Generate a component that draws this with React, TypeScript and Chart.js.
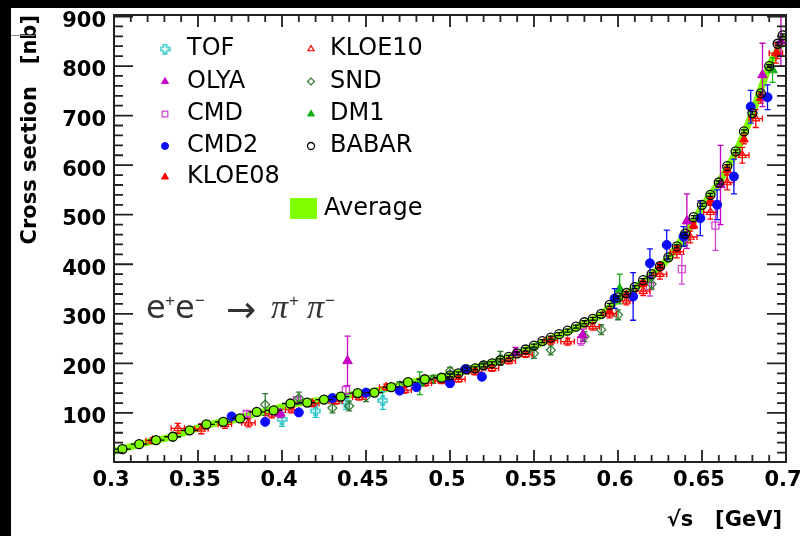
import { useEffect, useRef } from "react";
import { Chart, registerables } from "chart.js";
import { drawPoint } from "chart.js/helpers";

Chart.register(...registerables);

// ---------- axis ticks ----------
const X_TICKS = [0.3, 0.35, 0.4, 0.45, 0.5, 0.55, 0.6, 0.65, 0.7];
const X_TICK_LABELS = ["0.3", "0.35", "0.4", "0.45", "0.5", "0.55", "0.6", "0.65", "0.7"];
const Y_TICKS = [100, 200, 300, 400, 500, 600, 700, 800, 900];
const Y_TICK_LABELS = ["100", "200", "300", "400", "500", "600", "700", "800", "900"];

// ---------- data ----------
const AVG_X = [0.3, 0.31, 0.32, 0.33, 0.34, 0.35, 0.36, 0.37, 0.38, 0.39, 0.4, 0.41, 0.42, 0.43, 0.44, 0.45, 0.46, 0.47, 0.48, 0.49, 0.5, 0.51, 0.52, 0.53, 0.54, 0.55, 0.56, 0.57, 0.58, 0.59, 0.6, 0.61, 0.62, 0.63, 0.64, 0.65, 0.66, 0.67, 0.68, 0.69, 0.7];
const AVG_Y = [23, 32, 41, 48, 58, 70, 79, 85, 95, 103, 112, 120, 124, 130, 136, 141, 147, 156, 164, 170, 176, 186, 196, 206, 219, 234, 250, 264, 280, 298, 330, 352, 378, 412, 460, 515, 565, 625, 705, 800, 862];

const BABAR_LO_X = [0.305, 0.315, 0.325, 0.335, 0.345, 0.355, 0.365, 0.375, 0.385, 0.395, 0.405, 0.415, 0.425, 0.435, 0.445, 0.455, 0.465, 0.475, 0.485, 0.495];
const BABAR_LO_Y = [27, 37, 45, 52, 65, 77, 82, 89, 102, 105, 119, 121, 127, 133, 140, 141, 152, 162, 168, 171];
const BABAR_HI_X = [0.5, 0.505, 0.51, 0.515, 0.52, 0.525, 0.53, 0.535, 0.54, 0.545, 0.55, 0.555, 0.56, 0.565, 0.57, 0.575, 0.58, 0.585, 0.59, 0.595, 0.6, 0.605, 0.61, 0.615, 0.62, 0.625, 0.63, 0.635, 0.64, 0.645, 0.65, 0.655, 0.66, 0.665, 0.67, 0.675, 0.68, 0.685, 0.69, 0.695, 0.698];
const BABAR_HI_Y = [176, 180, 188, 190, 196, 200, 206, 213, 220, 228, 236, 245, 252, 259, 266, 274, 283, 290, 300, 318, 333, 342, 354, 368, 380, 396, 414, 436, 462, 495, 520, 540, 565, 598, 628, 668, 705, 745, 800, 845, 862];
const BABAR_X_ERR_LO = 0.005;
const BABAR_Y_ERR = 3;

const TOF_X = [0.4, 0.42, 0.438, 0.46];
const TOF_Y = [87, 104, 122, 125];
const TOF_ERR = [14, 13, 15, 18];

const OLYA_X = [0.399, 0.439, 0.539, 0.579, 0.641, 0.661, 0.686, 0.697];
const OLYA_Y = [99, 205, 222, 257, 487, 560, 782, 850];
const OLYA_ERR = [8, 50, 10, 12, 55, 80, 64, 50];

const CMD_X = [0.379, 0.409, 0.438, 0.578, 0.619, 0.638, 0.658];
const CMD_Y = [98, 126, 146, 247, 356, 390, 478];
const CMD_ERR = [6, 6, 8, 10, 20, 30, 50];

const CMD2_X = [0.37, 0.39, 0.41, 0.43, 0.45, 0.47, 0.48, 0.5, 0.509, 0.519, 0.598, 0.609, 0.619, 0.629, 0.639, 0.649, 0.659, 0.669, 0.679, 0.689];
const CMD2_Y = [93, 82, 101, 130, 141, 145, 152, 160, 188, 173, 331, 335, 402, 439, 456, 493, 520, 577, 718, 737];
const CMD2_ERR = [5, 5, 5, 6, 6, 6, 6, 7, 7, 7, 20, 48, 29, 30, 20, 35, 30, 35, 33, 25];

const KLOE08_X = [0.595, 0.605, 0.615, 0.625, 0.635, 0.645, 0.655, 0.665, 0.675, 0.685, 0.695];
const KLOE08_Y = [305, 338, 362, 396, 430, 478, 528, 590, 652, 735, 825];
const KLOE08_ERR = [4, 4, 5, 5, 6, 6, 7, 8, 9, 10, 10];

const KLOE10_X = [0.323, 0.338, 0.352, 0.366, 0.38, 0.394, 0.406, 0.418, 0.432, 0.446, 0.462, 0.473, 0.485, 0.495, 0.505, 0.515, 0.525, 0.535, 0.545, 0.56, 0.57, 0.585, 0.595, 0.605, 0.615, 0.625, 0.635, 0.643, 0.655, 0.665, 0.674, 0.682, 0.694];
const KLOE10_Y = [44, 69, 68, 77, 80, 98, 106, 119, 124, 132, 152, 146, 160, 165, 168, 183, 190, 205, 218, 246, 244, 274, 300, 326, 346, 380, 425, 455, 505, 565, 620, 694, 826];
const KLOE10_ERR = [6, 10, 10, 8, 8, 8, 6, 6, 6, 6, 6, 6, 6, 6, 6, 6, 6, 6, 6, 7, 7, 7, 8, 8, 9, 10, 12, 12, 14, 15, 16, 18, 20];
const KLOE10_X_ERR = 0.004;

const SND_X = [0.39, 0.41, 0.43, 0.44, 0.45, 0.47, 0.49, 0.5, 0.52, 0.53, 0.55, 0.56, 0.58, 0.59, 0.6, 0.62, 0.64];
const SND_Y = [117, 130, 110, 114, 133, 155, 168, 185, 196, 210, 220, 227, 254, 268, 298, 360, 450];
const SND_ERR = [22, 12, 10, 10, 10, 8, 8, 7, 7, 14, 10, 10, 10, 10, 10, 10, 12];

const DM1_X = [0.482, 0.601, 0.692];
const DM1_Y = [160, 350, 792];
const DM1_ERR = [23, 30, 25];

// ---------- styling ----------
const FONT = '"DejaVu Sans", "Liberation Sans", sans-serif';
const C_TOF = "#14c0c0";
const C_OLYA = "#c400c4";
const C_CMD = "#d040d0";
const C_CMD2 = "#0a0aff";
const C_RED = "#ff0000";
const C_SND = "#2f7a2f";
const C_DM1 = "#12b012";
const C_AVG = "#80ff00";
const CLEAR = "rgba(0,0,0,0)";

const pts = (xs: number[], ys: number[]) => xs.map((x, i) => ({ x, y: ys[i] }));

function makeHollowPlus(color: string) {
  const c = document.createElement("canvas");
  c.width = 11;
  c.height = 11;
  const g = c.getContext("2d")!;
  g.strokeStyle = color;
  g.lineWidth = 1.3;
  const m = 5.5, a = 1.6, e = 4.5;
  g.beginPath();
  g.moveTo(m - a, m - e); g.lineTo(m + a, m - e); g.lineTo(m + a, m - a); g.lineTo(m + e, m - a);
  g.lineTo(m + e, m + a); g.lineTo(m + a, m + a); g.lineTo(m + a, m + e); g.lineTo(m - a, m + e);
  g.lineTo(m - a, m + a); g.lineTo(m - e, m + a); g.lineTo(m - e, m - a); g.lineTo(m - a, m - a);
  g.closePath();
  g.stroke();
  return c;
}

const errorBarPlugin = {
  id: "errbars",
  beforeDatasetDraw(chart: any, args: any) {
    const ds: any = chart.data.datasets[args.index];
    if (!ds.yErr && !ds.xErr) return;
    const { ctx, chartArea } = chart;
    const xs = chart.scales.x, ys = chart.scales.y;
    ctx.save();
    ctx.beginPath();
    ctx.rect(chartArea.left, chartArea.top, chartArea.right - chartArea.left, chartArea.bottom - chartArea.top);
    ctx.clip();
    ctx.strokeStyle = ds.errColor;
    ctx.lineWidth = 1.3;
    const cap = 3;
    ds.data.forEach((p: any, i: number) => {
      const px = xs.getPixelForValue(p.x);
      const py = ys.getPixelForValue(p.y);
      const ye = Array.isArray(ds.yErr) ? ds.yErr[i] : ds.yErr;
      const xe = Array.isArray(ds.xErr) ? ds.xErr[i] : ds.xErr;
      ctx.beginPath();
      if (ye) {
        const t = ys.getPixelForValue(p.y + ye);
        const b = ys.getPixelForValue(p.y - ye);
        ctx.moveTo(px, t); ctx.lineTo(px, b);
        ctx.moveTo(px - cap, t); ctx.lineTo(px + cap, t);
        ctx.moveTo(px - cap, b); ctx.lineTo(px + cap, b);
      }
      if (xe) {
        const l = xs.getPixelForValue(p.x - xe);
        const r = xs.getPixelForValue(p.x + xe);
        ctx.moveTo(l, py); ctx.lineTo(r, py);
        if (ds.xCaps) {
          ctx.moveTo(l, py - cap); ctx.lineTo(l, py + cap);
          ctx.moveTo(r, py - cap); ctx.lineTo(r, py + cap);
        }
      }
      ctx.stroke();
    });
    ctx.restore();
  },
};

const framePlugin = {
  id: "frame",
  beforeDraw(chart: any) {
    const { ctx, width, height } = chart;
    ctx.save();
    ctx.fillStyle = "#fff";
    ctx.fillRect(0, 0, width, height);
    ctx.restore();
  },
  afterDraw(chart: any) {
    const { ctx, chartArea: ca } = chart;
    const xs = chart.scales.x, ys = chart.scales.y;
    ctx.save();
    ctx.strokeStyle = "#222";
    ctx.lineWidth = 2;
    ctx.strokeRect(ca.left, ca.top, ca.right - ca.left, ca.bottom - ca.top);
    ctx.lineWidth = 1.8;
    ctx.beginPath();
    for (let i = 30; i <= 70; i++) {
      const px = xs.getPixelForValue(i / 100);
      const len = i % 5 === 0 ? 12 : 7;
      ctx.moveTo(px, ca.bottom); ctx.lineTo(px, ca.bottom - len);
      ctx.moveTo(px, ca.top); ctx.lineTo(px, ca.top + len);
    }
    for (let i = 1; i <= 45; i++) {
      const v = i * 20;
      if (v > ys.max) break;
      const py = ys.getPixelForValue(v);
      const len = v % 100 === 0 ? 19 : 9;
      ctx.moveTo(ca.left, py); ctx.lineTo(ca.left + len, py);
      ctx.moveTo(ca.right, py); ctx.lineTo(ca.right - len, py);
    }
    ctx.stroke();

    // axis titles
    ctx.fillStyle = "#000";
    ctx.font = `bold 21px ${FONT}`;
    ctx.save();
    ctx.translate(31, 15);
    ctx.rotate(-Math.PI / 2);
    ctx.textAlign = "right";
    ctx.textBaseline = "middle";
    ctx.fillText("Cross section   [nb]", 0, 0);
    ctx.restore();
    ctx.textAlign = "right";
    ctx.textBaseline = "middle";
    ctx.fillText("\u221As   [GeV]", 782, 521);

    // legend
    const entries: any[] = chart.data.datasets.filter((d: any) => d.legendPos);
    ctx.textAlign = "left";
    ctx.textBaseline = "middle";
    ctx.font = `24px ${FONT}`;
    entries.forEach((d: any) => {
      const [mx, tx, y] = d.legendPos;
      ctx.save();
      ctx.fillStyle = d.legendFill;
      ctx.strokeStyle = d.pointBorderColor;
      ctx.lineWidth = d.pointBorderWidth;
      drawPoint(ctx, { pointStyle: d.pointStyle, radius: d.legendRadius, rotation: 0, borderWidth: d.pointBorderWidth } as any, mx, y);
      ctx.restore();
      ctx.fillStyle = "#000";
      ctx.fillText(d.label, tx, y);
    });
    ctx.fillStyle = C_AVG;
    ctx.fillRect(290, 198, 27, 21);
    ctx.fillStyle = "#000";
    ctx.fillText("Average", 324, 209);

    // process annotation
    ctx.fillStyle = "#333";
    ctx.textBaseline = "alphabetic";
    ctx.textAlign = "left";
    ctx.font = `32px ${FONT}`;
    ctx.fillText("e", 146, 318);
    ctx.fillText("e", 175, 318);
    ctx.font = `17px "Liberation Sans", sans-serif`;
    ctx.fillText("+", 165, 306);
    ctx.fillText("\u2212", 195, 306);
    ctx.fillText("+", 289, 306);
    ctx.fillText("\u2212", 325, 306);
    ctx.font = `36px ${FONT}`;
    ctx.fillText("\u2192", 226, 322);
    ctx.font = `italic 34px "Liberation Serif", serif`;
    ctx.fillText("\u03C0", 271, 318);
    ctx.fillText("\u03C0", 307, 318);

    // outer dark strips
    ctx.fillStyle = "#000";
    ctx.fillRect(0, 0, 800, 8);
    ctx.fillRect(0, 0, 11, 536);
    ctx.strokeStyle = "#888";
    ctx.lineWidth = 1;
    ctx.beginPath();
    ctx.moveTo(11, 35.5); ctx.lineTo(35, 35.5);
    ctx.stroke();
    ctx.restore();
  },
};

export default function App() {
  const ref = useRef<HTMLCanvasElement>(null);
  useEffect(() => {
    const plus = makeHollowPlus(C_TOF);
    const babarX = [...BABAR_LO_X, ...BABAR_HI_X];
    const babarY = [...BABAR_LO_Y, ...BABAR_HI_Y];
    const babarXErr = [...BABAR_LO_X.map(() => BABAR_X_ERR_LO), ...BABAR_HI_X.map(() => 0)];
    const babarFill = [...BABAR_LO_X.map(() => C_AVG), ...BABAR_HI_X.map(() => CLEAR)];

    const mk = (label: string, xs: number[], ys: number[], o: any) => ({
      label,
      data: pts(xs, ys),
      showLine: false,
      pointHoverRadius: 0,
      ...o,
    });

    const datasets: any[] = [
      mk("BABAR", babarX, babarY, {
        pointStyle: "circle", pointRadius: 4.5, legendRadius: 3.5, legendFill: CLEAR,
        pointBackgroundColor: babarFill, pointBorderColor: "#000", pointBorderWidth: 1.3,
        xErr: babarXErr, yErr: BABAR_Y_ERR, errColor: "#000", legendPos: [311, 330, 146],
      }),
      mk("CMD2", CMD2_X, CMD2_Y, {
        pointStyle: "circle", pointRadius: 4.5, legendRadius: 3.5, legendFill: C_CMD2,
        pointBackgroundColor: C_CMD2, pointBorderColor: C_CMD2, pointBorderWidth: 1,
        yErr: CMD2_ERR, errColor: C_CMD2, legendPos: [165, 187, 146],
      }),
      mk("OLYA", OLYA_X, OLYA_Y, {
        pointStyle: "triangle", pointRadius: 5.5, legendRadius: 4, legendFill: C_OLYA,
        pointBackgroundColor: C_OLYA, pointBorderColor: C_OLYA, pointBorderWidth: 1,
        yErr: OLYA_ERR, errColor: C_OLYA, legendPos: [165, 187, 81.5],
      }),
      mk("DM1", DM1_X, DM1_Y, {
        pointStyle: "triangle", pointRadius: 5.5, legendRadius: 4, legendFill: C_DM1,
        pointBackgroundColor: C_DM1, pointBorderColor: C_DM1, pointBorderWidth: 1,
        yErr: DM1_ERR, errColor: C_DM1, legendPos: [311, 330, 114],
      }),
      mk("KLOE08", KLOE08_X, KLOE08_Y, {
        pointStyle: "triangle", pointRadius: 5, legendRadius: 4, legendFill: C_RED,
        pointBackgroundColor: C_RED, pointBorderColor: C_RED, pointBorderWidth: 1,
        yErr: KLOE08_ERR, errColor: C_RED, legendPos: [165, 187, 177],
      }),
      mk("KLOE10", KLOE10_X, KLOE10_Y, {
        pointStyle: "triangle", pointRadius: 4.5, legendRadius: 3.5, legendFill: CLEAR,
        pointBackgroundColor: CLEAR, pointBorderColor: C_RED, pointBorderWidth: 1.2,
        yErr: KLOE10_ERR, xErr: KLOE10_X_ERR, xCaps: true, errColor: C_RED, legendPos: [311, 330, 49],
      }),
      mk("SND", SND_X, SND_Y, {
        pointStyle: "rectRot", pointRadius: 4.5, legendRadius: 3.5, legendFill: CLEAR,
        pointBackgroundColor: CLEAR, pointBorderColor: C_SND, pointBorderWidth: 1.2,
        yErr: SND_ERR, errColor: C_SND, legendPos: [311, 330, 81.5],
      }),
      mk("CMD", CMD_X, CMD_Y, {
        pointStyle: "rect", pointRadius: 5, legendRadius: 4, legendFill: CLEAR,
        pointBackgroundColor: CLEAR, pointBorderColor: C_CMD, pointBorderWidth: 1.2,
        yErr: CMD_ERR, errColor: C_CMD, legendPos: [165, 187, 114],
      }),
      mk("TOF", TOF_X, TOF_Y, {
        pointStyle: plus, pointRadius: 5, legendRadius: 4, legendFill: CLEAR,
        pointBackgroundColor: CLEAR, pointBorderColor: C_TOF, pointBorderWidth: 1,
        yErr: TOF_ERR, errColor: C_TOF, legendPos: [165, 187, 49],
      }),
      {
        label: "Average",
        data: pts(AVG_X, AVG_Y),
        showLine: true,
        borderColor: C_AVG,
        borderWidth: 7,
        pointRadius: 0,
        pointHoverRadius: 0,
        tension: 0.25,
      },
    ];

    const chart = new Chart(ref.current!, {
      type: "scatter",
      data: { datasets },
      options: {
        animation: false,
        responsive: false,
        maintainAspectRatio: false,
        devicePixelRatio: 1,
        events: [],
        layout: { padding: { left: 0, top: 15, right: 14, bottom: 0 } },
        plugins: { legend: { display: false }, tooltip: { enabled: false } },
        scales: {
          x: {
            type: "linear",
            min: 0.3,
            max: 0.7,
            grid: { display: false, drawTicks: false },
            border: { display: false },
            ticks: {
              font: { family: FONT, weight: "bold", size: 21 },
              color: "#000",
              padding: 6,
              labelOffset: -3,
              maxRotation: 0,
              minRotation: 0,
              autoSkip: false,
              callback: (_v: any, i: number) => X_TICK_LABELS[i],
            },
            afterBuildTicks: (s: any) => {
              s.ticks = X_TICKS.map((v) => ({ value: v }));
            },
            afterFit: (s: any) => {
              s.height = 74;
              s.paddingLeft = 0;
              s.paddingRight = 0;
            },
          },
          y: {
            type: "linear",
            min: 1,
            max: 903,
            grid: { display: false, drawTicks: false },
            border: { display: false },
            ticks: {
              font: { family: FONT, weight: "bold", size: 21 },
              color: "#000",
              padding: 8,
              labelOffset: 5,
              autoSkip: false,
              callback: (v: any) => {
                const k = Y_TICKS.indexOf(v);
                return k >= 0 ? Y_TICK_LABELS[k] : "";
              },
            },
            afterBuildTicks: (s: any) => {
              s.ticks = Y_TICKS.map((v) => ({ value: v }));
            },
            afterFit: (s: any) => {
              s.width = 114;
              s.paddingTop = 0;
              s.paddingBottom = 0;
            },
          },
        },
      } as any,
      plugins: [errorBarPlugin, framePlugin],
    });
    return () => chart.destroy();
  }, []);

  return (
    <div style={{ position: "fixed", left: 0, top: 0, width: 800, height: 536, background: "#fff" }}>
      <canvas ref={ref} width={800} height={536} style={{ display: "block", width: 800, height: 536 }} />
    </div>
  );
}
